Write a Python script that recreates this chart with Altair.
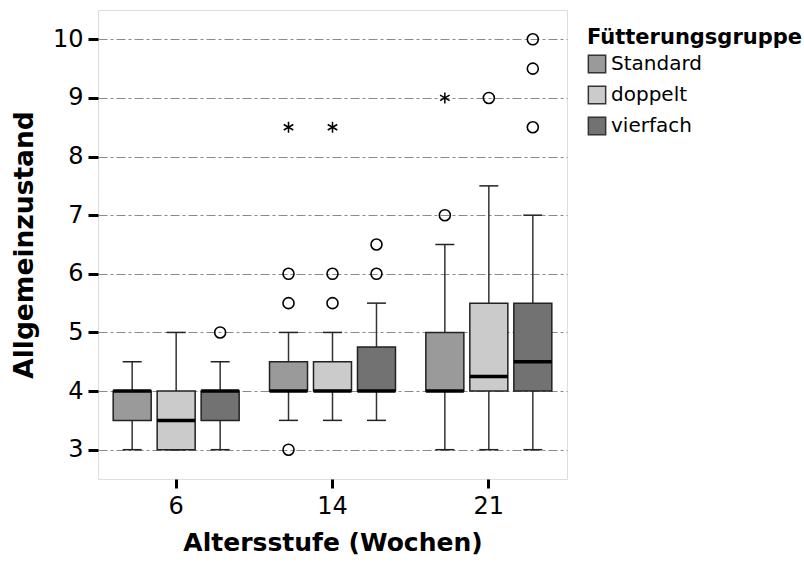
import altair as alt
import pandas as pd

ages = ["6", "14", "21"]
groups = ["Standard", "doppelt", "vierfach"]
colors = ["#9a9a9a", "#cbcbcb", "#727272"]

# order: age-major, group-minor
box_age = ["6", "6", "6", "14", "14", "14", "21", "21", "21"]
box_group = ["Standard", "doppelt", "vierfach"] * 3
whisk_lo = [3.0, 3.0, 3.0, 3.5, 3.5, 3.5, 3.0, 3.0, 3.0]
q1 = [3.5, 3.0, 3.5, 4.0, 4.0, 4.0, 4.0, 4.0, 4.0]
median = [4.0, 3.5, 4.0, 4.0, 4.0, 4.0, 4.0, 4.25, 4.5]
q3 = [4.0, 4.0, 4.0, 4.5, 4.5, 4.75, 5.0, 5.5, 5.5]
whisk_hi = [4.5, 5.0, 4.5, 5.0, 5.0, 5.5, 6.5, 7.5, 7.0]

out_age = ["6", "14", "14", "14", "14", "14", "14", "14", "21", "21", "21", "21", "21"]
out_group = ["vierfach", "Standard", "Standard", "Standard", "doppelt", "doppelt",
             "vierfach", "vierfach", "Standard", "doppelt", "vierfach", "vierfach", "vierfach"]
out_value = [5.0, 3.0, 5.5, 6.0, 5.5, 6.0, 6.0, 6.5, 7.0, 9.0, 8.5, 9.5, 10.0]

ext_age = ["14", "14", "21"]
ext_group = ["Standard", "doppelt", "Standard"]
ext_value = [8.5, 8.5, 9.0]

y_ticks = [3, 4, 5, 6, 7, 8, 9, 10]

boxes = pd.DataFrame({"age": box_age, "group": box_group, "lo": whisk_lo, "q1": q1,
                      "med": median, "q3": q3, "hi": whisk_hi})
outs = pd.DataFrame({"age": out_age, "group": out_group, "v": out_value})
exts = pd.DataFrame({"age": ext_age, "group": ext_group, "v": ext_value})

FONT = "DejaVu Sans"

xaxis = alt.Axis(title="Altersstufe (Wochen)", labelAngle=0, domain=False,
                 tickSize=9, tickWidth=3, tickColor="black", labelFontSize=24,
                 labelPadding=6, labelColor="black", titleFontSize=25,
                 titleFontWeight="bold", titleColor="black", titlePadding=12,
                 labelFont=FONT, titleFont=FONT, grid=False)
xenc = alt.X("age:N", sort=ages, scale=alt.Scale(paddingInner=0, paddingOuter=0), axis=xaxis)
xoff = alt.XOffset("group:N", sort=groups,
                   scale=alt.Scale(paddingInner=0.136, paddingOuter=0.345))
yscale = alt.Scale(domain=[2.5, 10.5], nice=False, zero=False)
yaxis = alt.Axis(title="Allgemeinzustand", values=y_ticks, format="d", domain=False,
                 tickSize=10, tickWidth=3, tickColor="black", labelFontSize=24,
                 labelPadding=5, labelColor="black", titleFontSize=26.5, titleFontWeight="bold",
                 titleColor="black", titlePadding=14, labelFont=FONT, titleFont=FONT,
                 grid=True, gridColor="#8a8a8a", gridDash=[9, 3, 3, 3], gridWidth=1.2)


def Y(field):
    return alt.Y(field, scale=yscale, axis=yaxis)


base_box = alt.Chart(boxes)

whisk = base_box.mark_rule(color="#333333", strokeWidth=1.5, opacity=1).encode(
    x=xenc, xOffset=xoff, y=Y("lo:Q"), y2="hi:Q")

caps_lo = base_box.mark_tick(color="#222222", thickness=1.5, size=19, orient="horizontal",
                             opacity=1).encode(
    x=xenc, xOffset=xoff, y=Y("lo:Q"))
caps_hi = base_box.mark_tick(color="#222222", thickness=1.5, size=19, orient="horizontal",
                             opacity=1).encode(
    x=xenc, xOffset=xoff, y=Y("hi:Q"))

bars = base_box.mark_bar(stroke="#222222", strokeWidth=1.5, opacity=1).encode(
    x=xenc, xOffset=xoff,
    y=Y("q1:Q"), y2="q3:Q",
    color=alt.Color("group:N", sort=groups,
                    scale=alt.Scale(domain=groups, range=colors),
                    legend=alt.Legend(title="Fütterungsgruppe", orient="none",
                                      legendX=489, legendY=17, symbolType="square",
                                      symbolSize=300, symbolStrokeColor="#333333",
                                      symbolStrokeWidth=1.5, labelFontSize=20,
                                      titleFontSize=21, titleFont=FONT, labelFont=FONT,
                                      titleFontWeight="bold", symbolOpacity=1,
                                      titleColor="black", labelColor="black",
                                      titleLimit=0, labelLimit=0,
                                      rowPadding=7, titlePadding=6, labelOffset=4)))

meds = base_box.mark_tick(color="black", thickness=3.5, size=38, orient="horizontal",
                          opacity=1).encode(
    x=xenc, xOffset=xoff, y=Y("med:Q"))

pts = alt.Chart(outs).mark_point(shape="circle", filled=False, size=121, stroke="black",
                                 strokeWidth=1.6, opacity=1).encode(
    x=xenc, xOffset=xoff, y=Y("v:Q"))

star = "M0,-1L0,1M-0.87,-0.5L0.87,0.5M-0.87,0.5L0.87,-0.5"
stars = alt.Chart(exts).mark_point(shape=star, filled=False, size=120, stroke="black",
                                   strokeWidth=1.5, opacity=1).encode(
    x=xenc, xOffset=xoff, y=Y("v:Q"))

chart = alt.layer(whisk, caps_lo, caps_hi, bars, meds, pts, stars).properties(
    width=469, height=469,
    autosize=alt.AutoSizeParams(type="none"),
    padding={"left": 98, "top": 10, "right": 237, "bottom": 84},
).configure_view(stroke="#666666", strokeWidth=1.5).configure(
    background="white", font=FONT)

chart.save("out.html", embed_options={"renderer": "svg", "actions": False})
